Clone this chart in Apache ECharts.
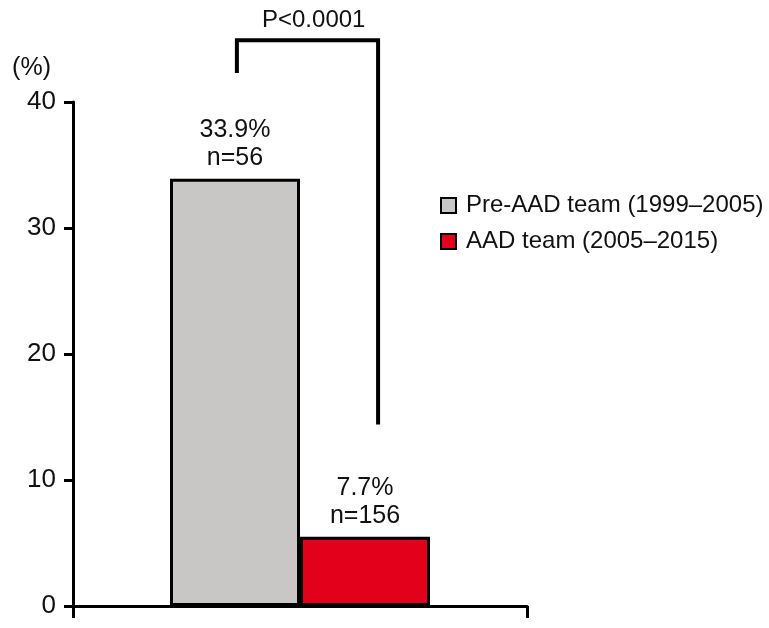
<!DOCTYPE html>
<html>
<head>
<meta charset="utf-8">
<script src="https://cdn.jsdelivr.net/npm/echarts@6/dist/echarts.min.js"></script>
<style>html,body{margin:0;padding:0;background:#fff}#c{width:769px;height:628px}</style>
</head>
<body>
<div id="c"></div>
<script>
// ---- data ----
var categories = ['Group'];
var seriesNames = ['Pre-AAD team (1999\u20132005)', 'AAD team (2005\u20132015)'];
var barValues = [33.9, 5.5];          // bar heights as drawn
var pctLabels = ['33.9%', '7.7%'];    // printed labels
var nLabels = ['n=56', 'n=156'];
var yTicks = [0, 10, 20, 30, 40];
var pText = 'P<0.0001';
// significance bracket in (fraction of x axis, y value) space
var bracketX = [0.361, 0.361, 0.672, 0.672];
var bracketY = [42.3, 44.9, 44.9, 14.4];

var colors = ['#c9c7c5', '#e3001b'];
var FONT = '"Liberation Sans", Arial, sans-serif';

var chart = echarts.init(document.getElementById('c'));
var barSeries = seriesNames.map(function (name, i) {
  return {
    name: name,
    type: 'bar',
    barWidth: 130,
    barGap: '0%',
    data: [barValues[i]],
    itemStyle: { color: colors[i], borderColor: '#000', borderWidth: 3 },
    label: {
      show: true, position: 'top', distance: 7,
      formatter: function () { return pctLabels[i] + '\n' + nLabels[i]; },
      color: '#111', fontSize: 25, lineHeight: 28, fontFamily: FONT
    }
  };
});
var bracketData = bracketX.map(function (x, i) { return [x, bracketY[i]]; });

chart.setOption({
  animation: false,
  backgroundColor: '#fff',
  textStyle: { fontFamily: FONT },
  title: {
    text: pText, left: 257, top: 3,
    textStyle: { fontSize: 24, fontWeight: 'normal', color: '#111', fontFamily: FONT }
  },
  legend: {
    orient: 'vertical', left: 435, top: 188, icon: 'rect',
    itemWidth: 15, itemHeight: 15, itemGap: 11,
    textStyle: { fontSize: 24, color: '#111', lineHeight: 25, fontFamily: FONT, padding: [0, 0, 0, 5] },
    data: seriesNames
  },
  grid: { left: 73, right: 242, top: 102, bottom: 22, containLabel: false },
  xAxis: [{
    type: 'category', data: categories,
    axisLine: { lineStyle: { color: '#000', width: 3 } },
    axisTick: { show: true, length: 12, lineStyle: { color: '#000', width: 3 } },
    axisLabel: { show: false }
  }, {
    type: 'value', min: 0, max: 1, show: false
  }],
  yAxis: {
    type: 'value', min: yTicks[0], max: yTicks[yTicks.length - 1], interval: yTicks[1] - yTicks[0],
    name: '(%)', nameLocation: 'end', nameGap: 21,
    nameTextStyle: { fontSize: 25, color: '#111', align: 'right', padding: [0, 22, 0, 0], fontFamily: FONT },
    axisLine: { show: true, lineStyle: { color: '#000', width: 3 } },
    axisTick: { show: true, length: 9, lineStyle: { color: '#000', width: 3 } },
    axisLabel: { fontSize: 26, color: '#111', margin: 17, fontFamily: FONT },
    splitLine: { show: false }
  },
  series: barSeries.concat([{
    type: 'line', xAxisIndex: 1, yAxisIndex: 0,
    data: bracketData, symbol: 'none', clip: false,
    lineStyle: { color: '#000', width: 4, join: 'miter' },
    silent: true, legendHoverLink: false
  }])
});
</script>
</body>
</html>
